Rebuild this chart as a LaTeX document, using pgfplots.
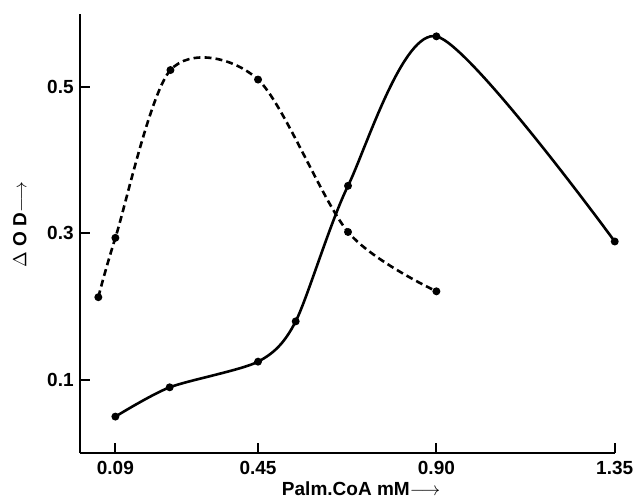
\documentclass[border=0pt]{standalone}
\usepackage{fontspec}
\setmainfont{Liberation Sans}
\usepackage{pgfplots}
\pgfplotsset{compat=1.18}

\begin{document}
\begin{tikzpicture}
\begin{axis}[
  scale only axis,
  width=10.88cm, height=8.94cm,
  xmin=0, xmax=1.35, ymin=0, ymax=0.6,
  axis lines*=left,
  axis line style={-, line width=1.1pt},
  tick align=inside, tick pos=left,
  major tick length=0.2cm,
  tick style={black, line width=1.2pt},
  xtick={0.09,0.45,0.90,1.35},
  xticklabels={0.09,0.45,0.90,1.35},
  ytick={0.1,0.3,0.5},
  yticklabels={0.1,0.3,0.5},
  tick label style={font=\fontsize{11}{12}\selectfont\bfseries},
  xticklabel style={yshift=-1pt},
  /pgf/number format/assume math mode=true,
  clip=false,
]
% dashed series
\addplot[black, line width=1.5pt, dash pattern=on 4pt off 2.4pt, smooth, tension=0.5,
  mark=*, mark size=1.5pt, mark options={solid}]
  coordinates {(0.047,0.213)(0.09,0.294)(0.229,0.523)(0.45,0.51)(0.677,0.302)(0.90,0.221)};
% solid series
\addplot[black, line width=1.5pt, smooth, tension=0.45, mark=*, mark size=1.5pt]
  coordinates {(0.09,0.05)(0.227,0.09)(0.45,0.125)(0.545,0.18)(0.677,0.365)(0.90,0.569)(1.35,0.289)};
% tick marks, drawn again so they show
\pgfplotsinvokeforeach{0.09,0.45,0.90,1.35}{
  \draw[line width=1.2pt] (axis cs:#1,0) -- ++(0,0.2cm);
}
\pgfplotsinvokeforeach{0.1,0.3,0.5}{
  \draw[line width=1.2pt] (axis cs:0,#1) -- ++(0.2cm,0);
}
\node[font=\fontsize{11}{12}\selectfont\bfseries] at (rel axis cs:0.526,-0.08) {Palm.CoA mM$\longrightarrow$};
\node[font=\fontsize{11}{12}\selectfont\bfseries, rotate=90] at (rel axis cs:-0.112,0.52) {$\Delta$ O D$\longrightarrow$};
\path (rel axis cs:-0.149,-0.105) rectangle (rel axis cs:1.026,1.031);
\end{axis}
\end{tikzpicture}
\end{document}
